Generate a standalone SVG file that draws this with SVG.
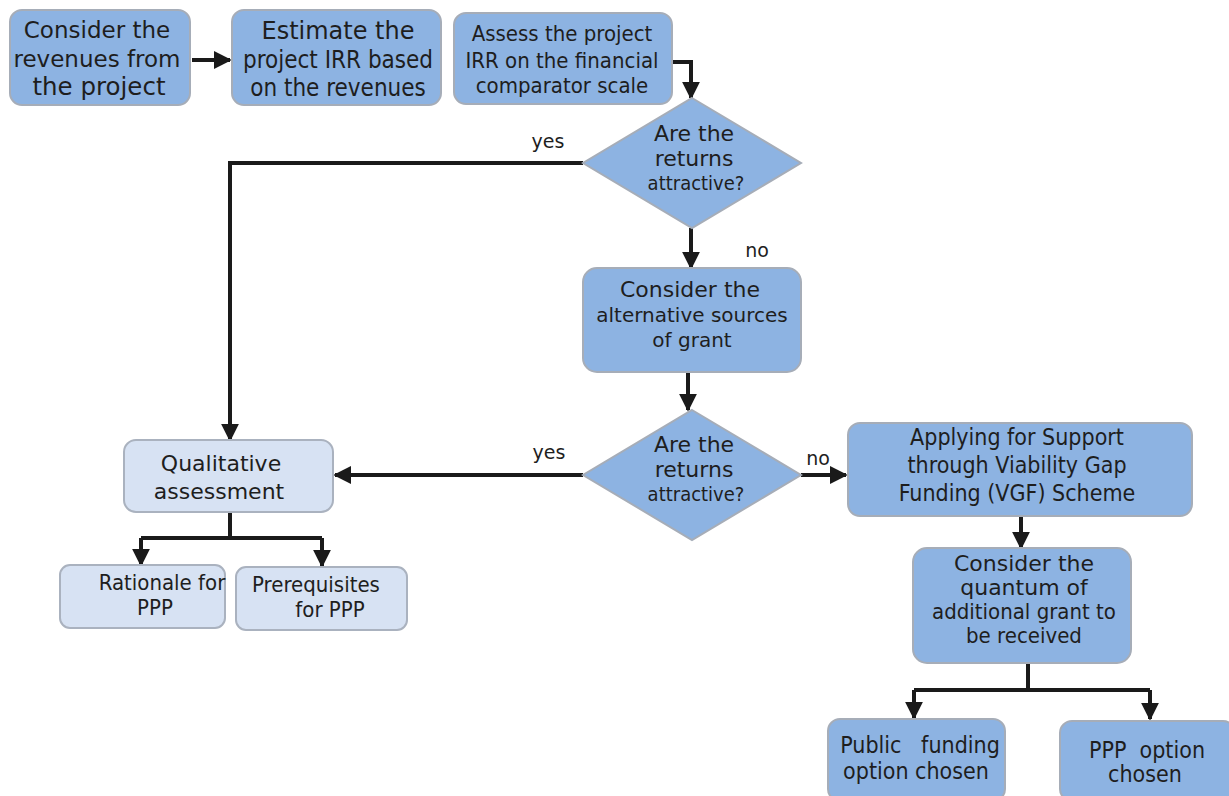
<svg xmlns="http://www.w3.org/2000/svg" width="1229" height="796" viewBox="0 0 1229 796">
  <style>
    .box { fill: #8db3e2; stroke: #a6adb8; stroke-width: 2; }
    .light { fill: #d7e2f3; stroke: #aab2bf; stroke-width: 2; }
    .t { font-family: "DejaVu Sans", Verdana, sans-serif; fill: #1e1e1e; text-anchor: middle; }
    .tc { font-family: "DejaVu Sans Condensed", "DejaVu Sans", sans-serif; fill: #1e1e1e; text-anchor: middle; }
    .pre { white-space: pre; }
    .lbl { font-family: "DejaVu Sans", Verdana, sans-serif; fill: #1e1e1e; font-size: 19px; text-anchor: middle; }
    .c { fill: none; stroke: #1a1a1a; stroke-width: 4; }
  </style>
  <defs>
    <marker id="ah" viewBox="0 0 10 10" refX="9" refY="5" markerWidth="4.5" markerHeight="4.5" markerUnits="strokeWidth" orient="auto">
      <path d="M0,0 L10,5 L0,10 z" fill="#1a1a1a"/>
    </marker>
  </defs>

  <g id="connectors">
    <path class="c" d="M192,60 L230,60" marker-end="url(#ah)"/>
    <path class="c" d="M672,62 L691,62 L691,98" marker-end="url(#ah)"/>
    <path class="c" d="M583,163 L230,163 L230,440" marker-end="url(#ah)"/>
    <path class="c" d="M691,228 L691,268" marker-end="url(#ah)"/>
    <path class="c" d="M688,372 L688,410" marker-end="url(#ah)"/>
    <path class="c" d="M583,475 L335,475" marker-end="url(#ah)"/>
    <path class="c" d="M801,475 L846,475" marker-end="url(#ah)"/>
    <path class="c" d="M1021,516 L1021,548" marker-end="url(#ah)"/>
    <path class="c" d="M230,512 L230,538 M141,538 L322,538"/>
    <path class="c" d="M141,538 L141,565" marker-end="url(#ah)"/>
    <path class="c" d="M322,538 L322,566" marker-end="url(#ah)"/>
    <path class="c" d="M1028,663 L1028,690 M914,690 L1150,690"/>
    <path class="c" d="M914,690 L914,718" marker-end="url(#ah)"/>
    <path class="c" d="M1150,690 L1150,719" marker-end="url(#ah)"/>
  </g>

  <g id="labels">
    <text class="lbl" x="548" y="148">yes</text>
    <text class="lbl" x="757" y="257">no</text>
    <text class="lbl" x="549" y="459">yes</text>
    <text class="lbl" x="818" y="465">no</text>
  </g>

  <g id="n-revenues">
    <rect class="box" x="10" y="10" width="180" height="95" rx="12"/>
    <text class="t" font-size="23"><tspan x="97" y="38">Consider the</tspan><tspan x="97" y="67">revenues from</tspan></text>
    <text class="t" font-size="24.5"><tspan x="99" y="95">the project</tspan></text>
  </g>

  <g id="n-estimate">
    <rect class="box" x="232" y="10" width="209" height="95" rx="12"/>
    <text class="t" font-size="24"><tspan x="338" y="39">Estimate the</tspan></text>
    <text class="tc" font-size="24"><tspan x="338" y="68">project IRR based</tspan><tspan x="338" y="96">on the revenues</tspan></text>
  </g>

  <g id="n-assess">
    <rect class="box" x="454" y="13" width="218" height="91" rx="12"/>
    <text class="tc" font-size="22"><tspan x="562" y="41">Assess the project</tspan><tspan x="562" y="68">IRR on the financial</tspan><tspan x="562" y="93">comparator scale</tspan></text>
  </g>

  <g id="d-returns-1">
    <polygon class="box" points="692,98 801,163 692,228 583,163"/>
    <text class="t" font-size="22"><tspan x="694" y="141">Are the</tspan><tspan x="694" y="166">returns</tspan></text>
    <text class="tc" font-size="20"><tspan x="696" y="190">attractive?</tspan></text>
  </g>

  <g id="n-alternative">
    <rect class="box" x="583" y="268" width="218" height="104" rx="14"/>
    <text class="t" font-size="22"><tspan x="690" y="297">Consider the</tspan></text>
    <text class="t" font-size="20"><tspan x="692" y="322">alternative sources</tspan><tspan x="692" y="347">of grant</tspan></text>
  </g>

  <g id="d-returns-2">
    <polygon class="box" points="692,410 801,475 692,540 583,475"/>
    <text class="t" font-size="22"><tspan x="694" y="452">Are the</tspan><tspan x="694" y="477">returns</tspan></text>
    <text class="tc" font-size="20"><tspan x="696" y="501">attractive?</tspan></text>
  </g>

  <g id="n-qualitative">
    <rect class="light" x="124" y="440" width="209" height="72" rx="12"/>
    <text class="t" font-size="22"><tspan x="221" y="471">Qualitative</tspan><tspan x="219" y="499">assessment</tspan></text>
  </g>

  <g id="n-rationale">
    <rect class="light" x="60" y="565" width="165" height="63" rx="10"/>
    <text class="tc" font-size="22"><tspan x="162" y="590">Rationale for</tspan><tspan x="155" y="615">PPP</tspan></text>
  </g>

  <g id="n-prerequisites">
    <rect class="light" x="236" y="567" width="171" height="63" rx="10"/>
    <text class="tc" font-size="22"><tspan x="316" y="592">Prerequisites</tspan><tspan x="330" y="617">for PPP</tspan></text>
  </g>

  <g id="n-vgf">
    <rect class="box" x="848" y="423" width="344" height="93" rx="12"/>
    <text class="tc" font-size="23"><tspan x="1017" y="445">Applying for Support</tspan><tspan x="1017" y="473">through Viability Gap</tspan><tspan x="1017" y="501">Funding (VGF) Scheme</tspan></text>
  </g>

  <g id="n-quantum">
    <rect class="box" x="913" y="548" width="218" height="115" rx="14"/>
    <text class="t" font-size="22"><tspan x="1024" y="571">Consider the</tspan><tspan x="1024" y="595">quantum of</tspan></text>
    <text class="tc" font-size="22"><tspan x="1024" y="619">additional grant to</tspan><tspan x="1024" y="643">be received</tspan></text>
  </g>

  <g id="n-public">
    <rect class="box" x="828" y="719" width="177" height="82" rx="12"/>
    <text class="tc pre" font-size="23" xml:space="preserve"><tspan x="920" y="753">Public   funding</tspan><tspan x="916" y="779">option chosen</tspan></text>
  </g>

  <g id="n-ppp">
    <rect class="box" x="1060" y="721" width="175" height="80" rx="12"/>
    <text class="tc pre" font-size="23" xml:space="preserve"><tspan x="1147" y="758">PPP  option</tspan><tspan x="1145" y="782">chosen</tspan></text>
  </g>
</svg>
